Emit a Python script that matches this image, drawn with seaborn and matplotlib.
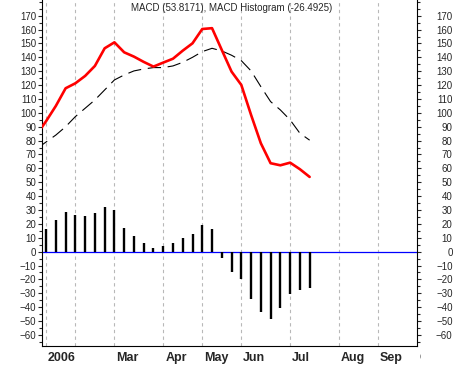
import numpy as np
import pandas as pd
import seaborn as sns
import matplotlib
matplotlib.use("Agg")
import matplotlib.pyplot as plt
from matplotlib.transforms import ScaledTranslation, Bbox, TransformedBbox

# ---- data (weekly, index 0 = first visible week of 2006) ----
line_weeks = list(range(-1, 28))
macd = [84, 94, 105, 117.7, 121.3, 126.6, 133.8, 146.5, 150.8, 143.6, 140.5, 136.7,
        133.3, 136.2, 139, 144.8, 150.1, 160.4, 161, 145.3, 129.7, 120.1, 98.5,
        78.1, 63.7, 62.2, 64.1, 59.4, 53.82]
signal = [74, 79, 84, 90, 97.3, 103.3, 109.3, 116.5, 123.7, 127.3, 130.2, 131.6,
          132.6, 132.6, 133.8, 136.4, 140, 144.1, 146.5, 144.6, 141.5, 137.6, 130.2,
          118.9, 108.1, 102.1, 94.9, 85.3, 80.3]
hist_weeks = list(range(0, 28))
hist = [16.6, 23, 28.6, 26.4, 25.5, 27.9, 32, 30.3, 17.3, 11.3, 6.3, 2.7, 4.1, 6.3,
        9.6, 13, 19.5, 16.1, -4.8, -14.6, -19.4, -33.8, -43.7, -48.2, -40.3, -30.5,
        -27.6, -26.49]
month_pos = [0, 3, 7, 12, 16, 20, 25, 30, 34, 38]
month_labels = ["2006", "", "Mar", "Apr", "May", "Jun", "Jul", "Aug", "Sep", "Oct"]
title = "MACD (53.8171), MACD Histogram (-26.4925)"

sns.set_style("white")
plt.rcParams['font.family'] = ['Liberation Sans', 'DejaVu Sans']

W, H, DPI = 463, 366, 100
fig = plt.figure(figsize=(W / DPI, H / DPI), dpi=DPI)
ax = fig.add_axes([42 / W, 20 / H, (417 - 42) / W, (366 - 20) / H])

# gridlines at month starts
for p in month_pos[:-1]:
    ax.axvline(p, color="#b8b8b8", lw=0.8, ls=(0, (3, 3)), zorder=0)

ax.axhline(0, color="#0000ff", lw=0.9, zorder=2)

ax.vlines(hist_weeks, 0, hist, color="black", lw=1.7, zorder=3)

ldf = pd.DataFrame({"week": line_weeks, "macd": macd, "signal": signal})
sns.lineplot(data=ldf, x="week", y="signal", ax=ax, color="black", lw=0.8,
             linestyle=(0, (12, 6)), zorder=4)
sns.lineplot(data=ldf, x="week", y="macd", ax=ax, color="#ff0000", lw=1.9, zorder=5)

ax.set_xlim(-0.42, 37.9)
ax.set_ylim(-68, 181.3)
ax.set_xlabel("")
ax.set_ylabel("")

# y ticks both sides
ax.set_yticks(np.arange(-60, 171, 10))
ax.set_yticks(np.arange(-65, 181, 5), minor=True)
ax.tick_params(axis="y", which="both", left=True, right=True, labelleft=True,
               labelright=True, direction="out", labelsize=7, pad=1)
ax.tick_params(axis="y", which="major", length=3, width=0.8)
ax.tick_params(axis="y", which="minor", length=2.2, width=0.8)
for t in ax.yaxis.get_major_ticks():
    t.label2.set_ha("right")
    t.label2.set_transform(t.label2.get_transform() +
                           ScaledTranslation(30 / DPI, 0, fig.dpi_scale_trans))

# x ticks: weekly minor, month major with long ticks and left-aligned bold labels
ax.set_xticks(month_pos, labels=month_labels)
ax.set_xticks(range(0, 38), minor=True)
ax.tick_params(axis="x", which="major", direction="out", length=13, width=0.8,
               pad=-8.5, labelsize=9)
ax.tick_params(axis="x", which="minor", direction="out", length=3, width=0.8)
clipbox = TransformedBbox(Bbox([[0, 0], [421 / DPI, H / DPI]]), fig.dpi_scale_trans)
for lab in ax.get_xticklabels():
    lab.set_ha("left")
    lab.set_fontweight("bold")
    lab.set_transform(lab.get_transform() +
                      ScaledTranslation(2 / DPI, 0, fig.dpi_scale_trans))
    lab.set_clip_on(True)
    lab.set_clip_box(clipbox)

for s in ["left", "right", "bottom"]:
    ax.spines[s].set_visible(True)
    ax.spines[s].set_color("black")
    ax.spines[s].set_linewidth(0.8)
ax.spines["top"].set_visible(False)

ax.text(0.505, 0.99, title, transform=ax.transAxes, ha="center", va="top",
        fontsize=7)

fig.savefig("out.png", dpi=DPI)
